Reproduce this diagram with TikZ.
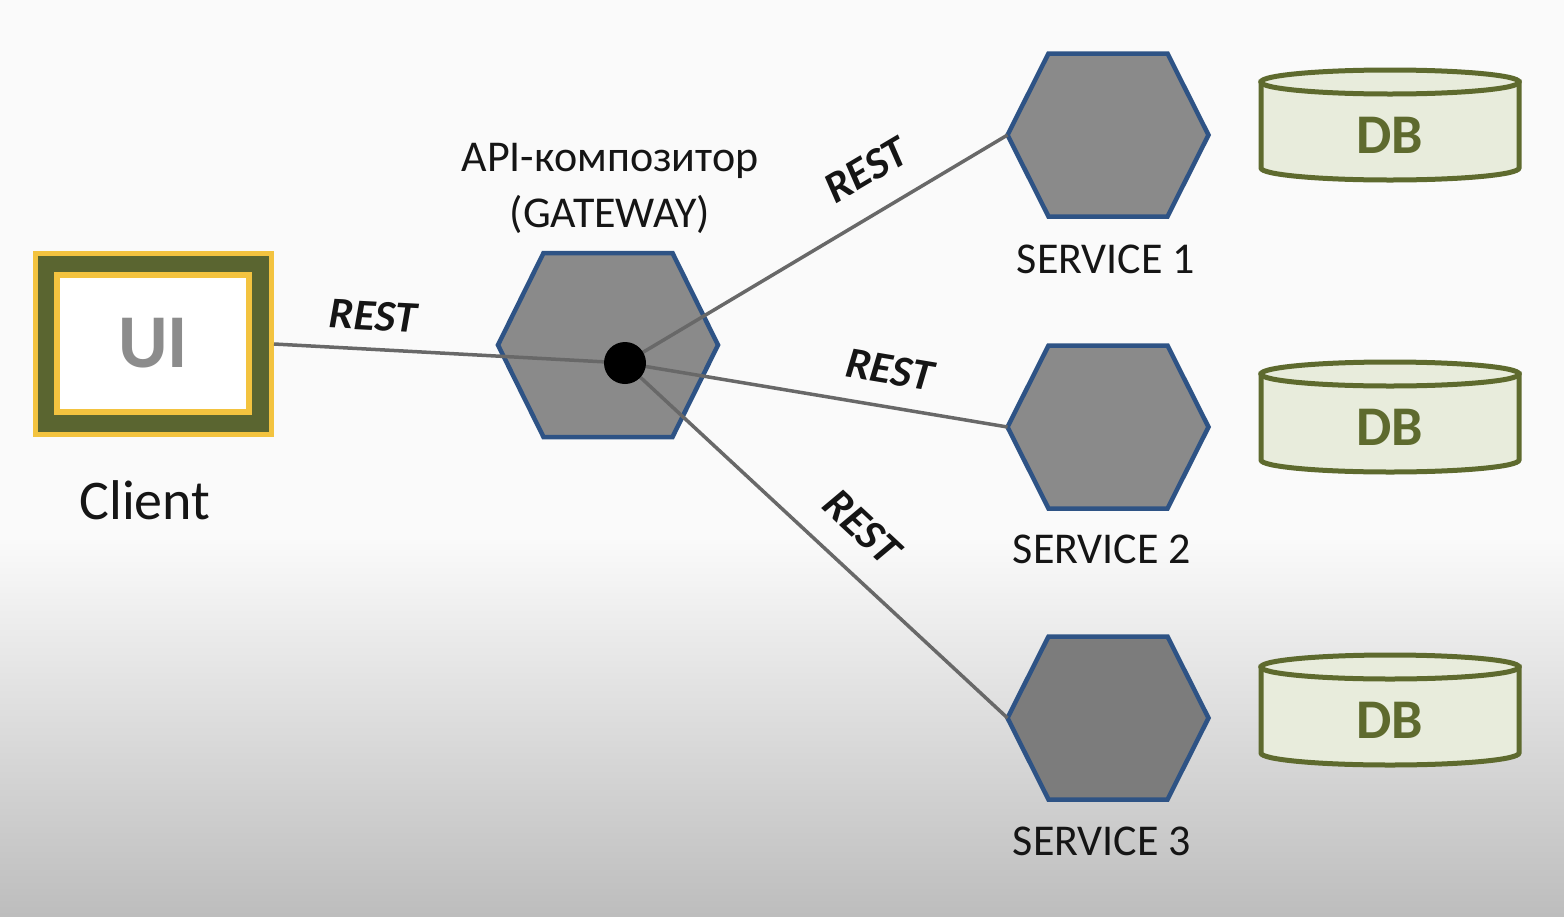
\documentclass[tikz,border=0pt]{standalone}
\usepackage{fontspec}
\setmainfont{Carlito}
\definecolor{hexblue}{HTML}{2E5385}
\definecolor{hexgray}{HTML}{8A8A8A}
\definecolor{hexdark}{HTML}{7C7C7C}
\definecolor{linkgray}{HTML}{686868}
\definecolor{dbolive}{HTML}{5E6A2E}
\definecolor{dbfill}{HTML}{E8ECDC}
\definecolor{uiyellow}{HTML}{F3C33F}
\definecolor{uiolive}{HTML}{5A6530}
\definecolor{uitext}{HTML}{8C8C8C}
\definecolor{txt}{HTML}{151515}
\definecolor{bgtop}{HTML}{FAFAFA}
\definecolor{bgbot}{HTML}{BDBDBD}
\begin{document}
\begin{tikzpicture}[x=1pt,y=-1pt,
  hexbox/.style={draw=hexblue,line width=4.5pt,line join=miter},
  link/.style={draw=linkgray,line width=3.5pt},
  dbbox/.style={draw=dbolive,fill=dbfill,line width=5pt},
  lbl/.style={font=\fontsize{44}{50}\selectfont,text=txt,inner sep=0pt},
  restlbl/.style={font=\fontsize{44}{50}\selectfont\bfseries\itshape,text=txt,inner sep=0pt},
  dbtext/.style={font=\fontsize{56}{60}\selectfont\bfseries,text=dbolive,inner sep=0pt},
]
\useasboundingbox (0,0) rectangle (1564,916);
\fill[bgtop] (0,0) rectangle (1564,916);
\shade[top color=bgtop,bottom color=bgbot] (0,540) rectangle (1564,916);

% Client UI box
\node[draw=uiyellow,fill=uiolive,line width=5pt,minimum width=236pt,minimum height=181pt,inner sep=0pt] (ui) at (153.5,344) {};
\node[draw=uiyellow,fill=white,line width=6pt,minimum width=192pt,minimum height=137pt,inner sep=0pt,
      font=\fontsize{76}{80}\selectfont\bfseries,text=uitext] (uiin) at (153,343.5) {UI};
\node[lbl,font=\fontsize{56}{60}\selectfont] (client) at (145,500) {Client};

% Gateway hexagon
\begin{scope}[shift={(608,345)}]
  \filldraw[hexbox,fill=hexgray] (-110,0) -- (-64.5,-92) -- (64.5,-92) -- (110,0) -- (64.5,92) -- (-64.5,92) -- cycle;
\end{scope}
\node[lbl] (gwname) at (610,161) {API-композитор};
\node[lbl] (gwtag) at (610,214) {(GATEWAY)};

% Service hexagons
\begin{scope}[shift={(1108,135)}]
  \filldraw[hexbox,fill=hexgray] (-100.5,0) -- (-59.5,-81.5) -- (59.5,-81.5) -- (100.5,0) -- (59.5,81.5) -- (-59.5,81.5) -- cycle;
  \coordinate (s1w) at (-100.5,0);
\end{scope}
\begin{scope}[shift={(1108,427)}]
  \filldraw[hexbox,fill=hexgray] (-100.5,0) -- (-59.5,-81.5) -- (59.5,-81.5) -- (100.5,0) -- (59.5,81.5) -- (-59.5,81.5) -- cycle;
  \coordinate (s2w) at (-100.5,0);
\end{scope}
\begin{scope}[shift={(1108,718)}]
  \filldraw[hexbox,fill=hexdark] (-100.5,0) -- (-59.5,-81.5) -- (59.5,-81.5) -- (100.5,0) -- (59.5,81.5) -- (-59.5,81.5) -- cycle;
  \coordinate (s3w) at (-100.5,0);
\end{scope}
\node[lbl] (s1name) at (1106,259) {SERVICE 1};
\node[lbl] (s2name) at (1102,549) {SERVICE 2};
\node[lbl] (s3name) at (1102,841) {SERVICE 3};

% Connectors
\coordinate (hub) at (625,363);
\draw[link] (ui.east) -- (hub);
\draw[link] (hub) -- (s1w);
\draw[link] (hub) -- (s2w);
\draw[link] (hub) -- (s3w);
\node[circle,fill=black,minimum size=42pt,inner sep=0pt] (dot) at (hub) {};

% REST labels
\node[restlbl,rotate=-3] (r0) at (373,316) {REST};
\node[restlbl,rotate=30.6] (r1) at (866,170) {REST};
\node[restlbl,rotate=-9.5] (r2) at (890,370) {REST};
\node[restlbl,rotate=-43] (r3) at (862,527) {REST};

% Databases
\foreach \n/\ty in {db1/82,db2/374,db3/667}{
  \begin{scope}[shift={(1390,\ty)}]
    \filldraw[dbbox] (-129,0) -- (-129,86) arc[start angle=180,end angle=0,x radius=129,y radius=12] -- (129,0) -- cycle;
    \filldraw[dbbox] (0,0) ellipse[x radius=129,y radius=12];
    \node[dbtext] (\n) at (0,53) {DB};
  \end{scope}
}
\end{tikzpicture}
\end{document}
